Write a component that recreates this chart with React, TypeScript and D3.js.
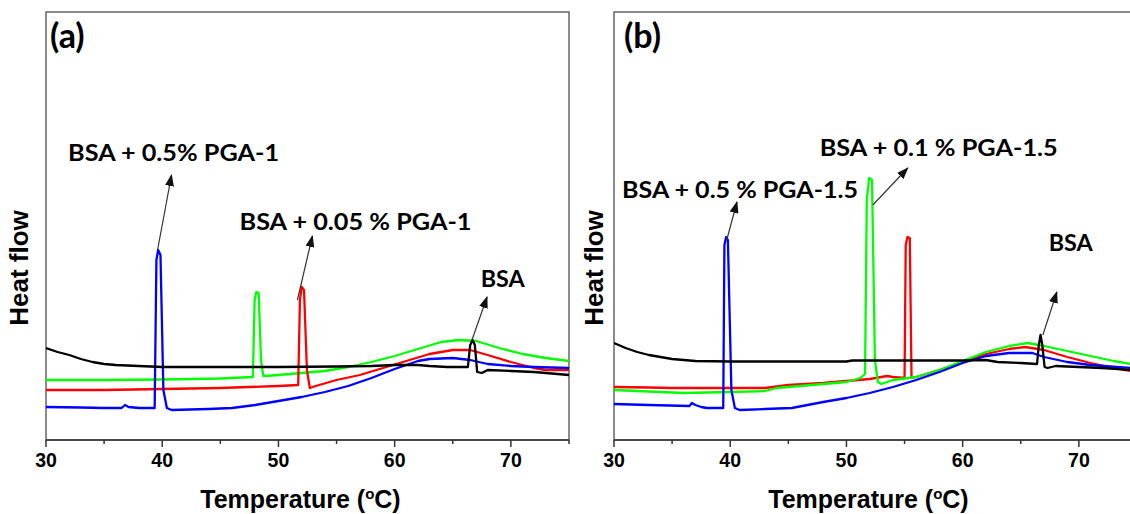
import React from 'react';
import * as d3 from 'd3';

type Pt = [number, number];

// x axis (Temperature, °C)
const xDomain: [number, number] = [30, 75];
const xTicks = [30, 40, 50, 60, 70];
const xMinorTicks = [35, 45, 55, 65, 75];
// heat flow, arbitrary units
const yDomain: [number, number] = [0, 42.8];

// ---------- Panel (a) ----------
const aBSA: Pt[] = [
  [30, 9.2], [31, 8.8], [32, 8.5], [33, 8.1], [34, 7.8], [35, 7.6], [36, 7.5], [38, 7.4], [40, 7.3],
  [50, 7.3], [55, 7.35], [58, 7.4], [60, 7.5], [62, 7.5], [63, 7.4], [64.5, 7.3], [66.3, 7.3],
  [66.5, 9.5], [66.7, 10.0], [66.9, 9.5], [67.1, 6.8], [67.5, 6.7], [68, 7.0], [70, 6.9], [72, 6.8],
  [74, 6.6], [75, 6.5],
];
const aPGA1_005: Pt[] = [
  [30, 5.0], [35, 5.0], [40, 5.1], [45, 5.2], [50, 5.4], [51.7, 5.5], [51.85, 14], [52.0, 15.3],
  [52.2, 15.0], [52.45, 7], [52.7, 5.2], [53.2, 5.4], [55, 6.0], [57, 6.5], [59, 7.2], [61, 7.9],
  [63, 8.6], [65, 9.0], [66.5, 9.0], [68, 8.5], [70, 7.8], [72, 7.2], [73, 7.0], [75, 7.0],
];
const aPGA1_mid: Pt[] = [
  [30, 6.0], [35, 6.0], [40, 6.05], [45, 6.15], [47.8, 6.3], [47.95, 14], [48.1, 14.8], [48.3, 14.7],
  [48.5, 8], [48.7, 6.4], [50, 6.5], [52, 6.7], [54, 6.9], [56, 7.3], [58, 7.8], [60, 8.4], [62, 9.1],
  [64, 9.8], [65.5, 10.0], [67, 9.9], [69, 9.2], [71, 8.6], [73, 8.2], [75, 7.9],
];
const aPGA1_05: Pt[] = [
  [30, 3.3], [33, 3.25], [35, 3.2], [36.5, 3.2], [36.8, 3.5], [37.1, 3.3], [38, 3.2], [39.35, 3.2],
  [39.5, 18], [39.65, 19.0], [39.85, 18.5], [40.1, 5], [40.4, 3.2], [40.8, 3.0], [44, 3.1], [46, 3.2],
  [48, 3.5], [50, 3.9], [52, 4.3], [54, 4.8], [56, 5.4], [58, 6.2], [60, 7.1], [62, 7.9], [63, 8.1],
  [65, 8.2], [66.5, 8.0], [68, 7.6], [70, 7.4], [72, 7.3], [75, 7.2],
];

// ---------- Panel (b) ----------
const bBSA: Pt[] = [
  [30, 9.7], [31, 9.2], [32, 8.8], [33, 8.5], [34, 8.3], [35, 8.1], [37, 7.9], [40, 7.85], [50, 7.85],
  [50.5, 7.95], [55, 7.95], [60, 7.95], [62, 8.0], [63, 7.8], [65, 7.7], [66.4, 7.6], [66.55, 9.5],
  [66.7, 10.5], [66.85, 9.5], [67.05, 7.3], [67.3, 7.2], [68, 7.4], [70, 7.3], [72, 7.2], [74.5, 7.0],
];
const bPGA15_01: Pt[] = [
  [30, 5.0], [32, 4.9], [34, 4.8], [36, 4.7], [40, 4.8], [43, 4.9], [44, 5.2], [46, 5.4], [48, 5.6],
  [50, 5.8], [51.2, 6.2], [51.6, 6.6], [51.75, 24], [51.95, 26.2], [52.2, 26], [52.45, 8], [52.7, 5.8],
  [53, 5.6], [54, 6.0], [56, 6.3], [58, 7.0], [60, 7.9], [62, 8.8], [64, 9.4], [65.6, 9.7], [67, 9.4],
  [69, 8.9], [71, 8.4], [73, 7.9], [74.5, 7.6],
];
const bPGA15_red: Pt[] = [
  [30, 5.3], [33, 5.25], [35, 5.2], [37, 5.2], [40, 5.2], [43, 5.2], [45, 5.5], [48, 5.7], [50, 5.9],
  [52, 6.1], [53.5, 6.4], [54, 6.3], [55.0, 6.2], [55.1, 19.5], [55.25, 20.3], [55.45, 20.2],
  [55.6, 6.2], [56, 6.3], [58, 7.0], [60, 7.8], [62, 8.6], [64, 9.1], [65.4, 9.3], [67, 9.0],
  [69, 8.3], [71, 7.7], [73, 7.2], [74.5, 6.9],
];
const bPGA15_05: Pt[] = [
  [30, 3.6], [33, 3.5], [36.5, 3.4], [36.7, 3.7], [37, 3.5], [37.5, 3.3], [38, 3.2], [39.4, 3.2],
  [39.5, 19.5], [39.65, 20.3], [39.8, 20], [40.1, 5], [40.4, 3.2], [40.8, 3.0], [43, 3.1], [45.3, 3.2],
  [48, 3.8], [50, 4.2], [52, 4.7], [54, 5.3], [56, 6.0], [58, 6.8], [60, 7.7], [62, 8.4], [64, 8.7],
  [66, 8.7], [67, 8.3], [69, 7.8], [71, 7.5], [74.5, 7.2],
];

// annotation texts and anchor points (temperature, heat flow)
const aLabels = ['BSA + 0.5% PGA-1', 'BSA + 0.05 % PGA-1', 'BSA'];
const aLabelAt: Pt[] = [[31.9, 27.9], [46.65, 21.0], [67.4, 15.3]];
const aArrowFrom: Pt[] = [[39.6, 19.0], [51.63, 14.0], [66.65, 10.0]];
const aArrowTo: Pt[] = [[40.8, 26.5], [52.92, 20.4], [67.95, 14.3]];
const aLabelLen = [211, 232, 44];

const bLabels = ['BSA + 0.5 % PGA-1.5', 'BSA + 0.1 % PGA-1.5', 'BSA'];
const bLabelAt: Pt[] = [[30.69, 24.2], [47.7, 28.4], [67.4, 18.9]];
const bArrowFrom: Pt[] = [[39.7, 20.0], [52.27, 23.5], [66.9, 10.5]];
const bArrowTo: Pt[] = [[40.58, 23.8], [55.28, 27.2], [68.1, 14.8]];
const bLabelLen = [236, 238, 44];

const W = 1130;
const H = 514;
const TOP = 12;
const BOTTOM = 440;

interface PanelProps {
  left: number;
  right: number;
  tag: string;
  series: { data: Pt[]; color: string }[];
  labels: string[];
  labelAt: Pt[];
  arrowFrom: Pt[];
  arrowTo: Pt[];
  labelLen: number[];
  titleX: number;
  tagX: number;
}

const annFont = 'Lato, "Open Sans", sans-serif';
const axisFont = '"Liberation Sans", Arial, sans-serif';

function Panel(p: PanelProps) {
  const x = d3.scaleLinear().domain(xDomain).range([p.left, p.right]);
  const y = d3.scaleLinear().domain(yDomain).range([BOTTOM, TOP]);
  const line = d3.line<Pt>().x((d) => x(d[0])).y((d) => y(d[1]));
  const cx = (p.left + p.right) / 2;
  const clipId = 'clip' + p.tag.replace(/[()]/g, '');
  return (
    <g>
      <defs>
        <clipPath id={clipId}>
          <rect x={p.left} y={TOP} width={p.right - p.left} height={BOTTOM - TOP} />
        </clipPath>
      </defs>
      {/* frame */}
      <rect x={p.left} y={TOP} width={p.right - p.left} height={BOTTOM - TOP} fill="none" stroke="#666" strokeWidth={1.5} />
      <line x1={p.left} x2={p.right} y1={BOTTOM} y2={BOTTOM} stroke="#333" strokeWidth={1.5} />
      {xTicks.map((t) => (
        <g key={'t' + t}>
          <line x1={x(t)} x2={x(t)} y1={BOTTOM} y2={BOTTOM + 7} stroke="#333" strokeWidth={1.5} />
          <text x={x(t)} y={467} textAnchor="middle" fontFamily={axisFont} fontWeight={700} fontSize={19.5} fill="#000">
            {t}
          </text>
        </g>
      ))}
      {xMinorTicks.map((t) => (
        <line key={'m' + t} x1={x(t)} x2={x(t)} y1={BOTTOM} y2={BOTTOM + 4} stroke="#333" strokeWidth={1.5} />
      ))}
      {/* curves */}
      <g clipPath={`url(#${clipId})`}>
        {p.series.map((s, i) => (
          <path key={i} d={line(s.data) || ''} fill="none" stroke={s.color} strokeWidth={2.3} strokeLinejoin="round" />
        ))}
      </g>
      {/* annotations */}
      {p.labels.map((l, i) => (
        <g key={'a' + i}>
          <line
            x1={x(p.arrowFrom[i][0])}
            y1={y(p.arrowFrom[i][1])}
            x2={x(p.arrowTo[i][0])}
            y2={y(p.arrowTo[i][1])}
            stroke="#333"
            strokeWidth={1.2}
            markerEnd="url(#arrowHead)"
          />
          <text
            x={x(p.labelAt[i][0])}
            y={y(p.labelAt[i][1])}
            fontFamily={annFont}
            fontWeight={700}
            fontSize={22.5}
            textLength={p.labelLen[i]}
            lengthAdjust="spacingAndGlyphs"
            fill="#000"
          >
            {l}
          </text>
        </g>
      ))}
      <text x={p.tagX} y={48} fontFamily={annFont} fontWeight={700} fontSize={34} fill="#000">
        {p.tag}
      </text>
      <text
        transform={`translate(${p.titleX},268) rotate(-90)`}
        textAnchor="middle"
        fontFamily={axisFont}
        fontWeight={700}
        fontSize={26}
        fill="#000"
      >
        Heat flow
      </text>
      <text x={cx - 7} y={508} textAnchor="middle" fontFamily={axisFont} fontWeight={700} fontSize={25} fill="#000">
        <tspan>Temperature (</tspan>
        <tspan fontSize={15} dy={-9}>o</tspan>
        <tspan dy={9}>C)</tspan>
      </text>
    </g>
  );
}

export default function App() {
  return (
    <svg
      width={W}
      height={H}
      viewBox={`0 0 ${W} ${H}`}
      style={{ position: 'absolute', left: 0, top: 0, background: '#fff' }}
    >
      <defs>
        <marker
          id="arrowHead"
          markerUnits="userSpaceOnUse"
          markerWidth={12}
          markerHeight={9}
          refX={11}
          refY={4.5}
          orient="auto"
        >
          <path d="M0,0 L12,4.5 L0,9 Z" fill="#111" />
        </marker>
      </defs>
      <rect x={0} y={0} width={W} height={H} fill="#fff" />
      <Panel
        left={46}
        right={569}
        tag="(a)"
        tagX={50}
        titleX={28}
        series={[
          { data: aPGA1_mid, color: '#00ff00' },
          { data: aPGA1_005, color: '#ff0000' },
          { data: aPGA1_05, color: '#0000ff' },
          { data: aBSA, color: '#000000' },
        ]}
        labels={aLabels}
        labelAt={aLabelAt}
        arrowFrom={aArrowFrom}
        arrowTo={aArrowTo}
        labelLen={aLabelLen}
      />
      <Panel
        left={614}
        right={1137}
        tag="(b)"
        tagX={624}
        titleX={603}
        series={[
          { data: bPGA15_red, color: '#ff0000' },
          { data: bPGA15_01, color: '#00ff00' },
          { data: bPGA15_05, color: '#0000ff' },
          { data: bBSA, color: '#000000' },
        ]}
        labels={bLabels}
        labelAt={bLabelAt}
        arrowFrom={bArrowFrom}
        arrowTo={bArrowTo}
        labelLen={bLabelLen}
      />
    </svg>
  );
}
